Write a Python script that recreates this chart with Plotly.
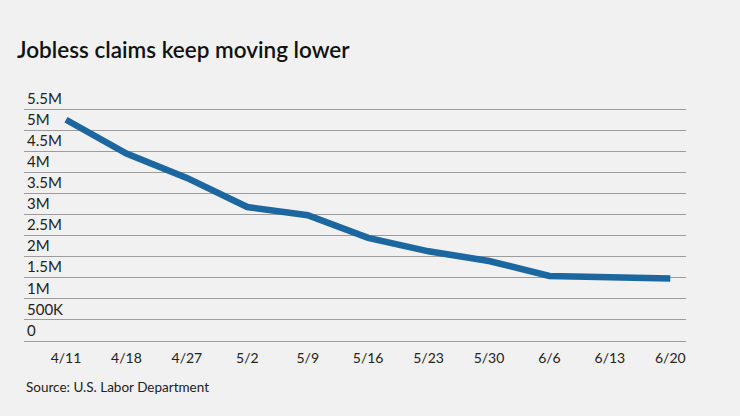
import plotly.graph_objects as go

dates = ["4/11", "4/18", "4/27", "5/2", "5/9", "5/16", "5/23", "5/30", "6/6", "6/13", "6/20"]
claims = [5245000, 4442000, 3867000, 3176000, 2981000, 2446000, 2126000, 1897000, 1542000, 1508000, 1480000]

y_tickvals = [0, 500000, 1000000, 1500000, 2000000, 2500000, 3000000, 3500000, 4000000, 4500000, 5000000, 5500000]
y_ticktext = ["0", "500K", "1M", "1.5M", "2M", "2.5M", "3M", "3.5M", "4M", "4.5M", "5M", "5.5M"]

FONT = "Lato"
BG = "#f0f1f0"
GRID = "#9c9c9c"

fig = go.Figure()
fig.add_trace(go.Scatter(
    x=dates, y=claims, mode="lines",
    line=dict(color="#1d67a0", width=6.5),
    hoverinfo="skip", showlegend=False,
))

TOP = 70
fig.update_layout(
    width=740, height=416,
    margin=dict(l=24, r=54, t=TOP, b=75),
    paper_bgcolor=BG, plot_bgcolor=BG,
    font=dict(family=FONT, color="#1a1a1a"),
    title=dict(text="Jobless claims keep moving lower", x=0.023, xanchor="left",
               y=1 - 50 / 416, yanchor="middle",
               font=dict(family=FONT, size=22.5, weight=600, color="#111111")),
    xaxis=dict(
        type="category", range=[-0.695, 10.26],
        showgrid=False, zeroline=False,
        showline=True, linecolor=GRID, linewidth=1,
        ticks="", ticklabelstandoff=4,
        tickfont=dict(family=FONT, size=14, color="#222222"),
    ),
    yaxis=dict(
        range=[0, 5500000 * (341 - TOP) / 232],
        tickvals=y_tickvals, ticktext=y_ticktext,
        ticklabelposition="inside top",
        showgrid=True, gridcolor=GRID, gridwidth=1,
        zeroline=False, showline=False, ticks="",
        tickfont=dict(family=FONT, size=15, color="#222222"),
    ),
    annotations=[dict(
        text="Source: U.S. Labor Department",
        x=0, xref="paper", y=-(387 - 341) / (341 - TOP), yref="paper",
        showarrow=False, xanchor="left", yanchor="middle",
        font=dict(family=FONT, size=13.5, color="#222222"),
    )],
)

fig.write_html("out.html")
